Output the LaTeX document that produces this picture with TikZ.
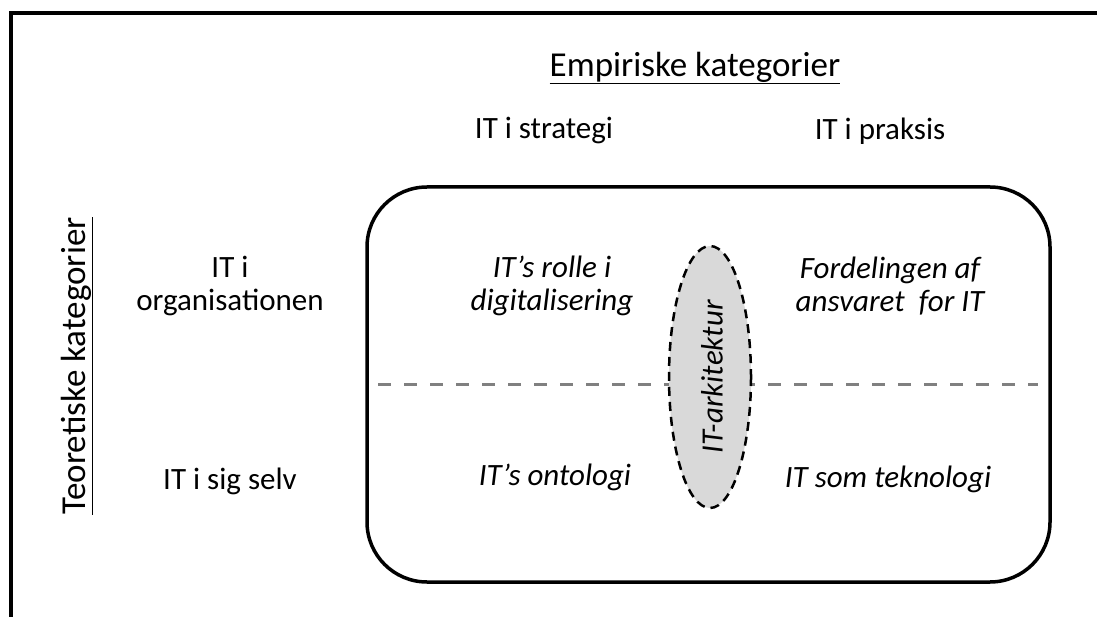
\documentclass[tikz,border=0pt]{standalone}
\usepackage{fontspec}
\setmainfont{Carlito}
\usetikzlibrary{shapes.geometric}
\begin{document}
\begin{tikzpicture}[x=1pt,y=-1pt,
	txt/.style={font=\fontsize{31}{33}\selectfont,align=center,inner sep=0pt},
	itxt/.style={txt,font=\fontsize{31}{33}\selectfont\itshape}]
\useasboundingbox (0,0) rectangle (1097,617);
% frame
\draw[line width=4] (11,617) -- (11,13) -- (1097,13);
% headings
\node[txt,font=\fontsize{35}{38}\selectfont] (emp) at (695,68) {\underline{Empiriske kategorier}};
\node[txt] (strat) at (544,131) {IT i strategi};
\node[txt] (praks) at (880,131) {IT i praksis};
\node[txt,font=\fontsize{35}{38}\selectfont,rotate=90] (teo) at (77,366) {\underline{Teoretiske kategorier}};
\node[txt] (org) at (230,286) {IT i\\organisationen};
\node[txt] (selv) at (230,481) {IT i sig selv};
% box
\draw[line width=3.5,rounded corners=60] (367,187) rectangle (1050,582);
\coordinate (dl) at (378,384);
\coordinate (dr) at (1038,384);
\draw[gray,line width=3,dash pattern=on 13 off 13] (dl) -- (dr);
\node[itxt] (rolle) at (552,286) {IT’s rolle i\\digitalisering};
\node[itxt] (ansvar) at (890,286) {Fordelingen af\\ansvaret\ \ for IT};
\node[itxt] (onto) at (555,477) {IT’s ontologi};
\node[itxt] (tekn) at (888,479) {IT som teknologi};
% ellipse
\draw[line width=2.5,dash pattern=on 9 off 6,fill={rgb,255:red,217;green,217;blue,217}]
	(710,377) ellipse (41 and 131);
\node[itxt,rotate=90] (arkit) at (712,377) {IT-arkitektur};
\end{tikzpicture}
\end{document}
